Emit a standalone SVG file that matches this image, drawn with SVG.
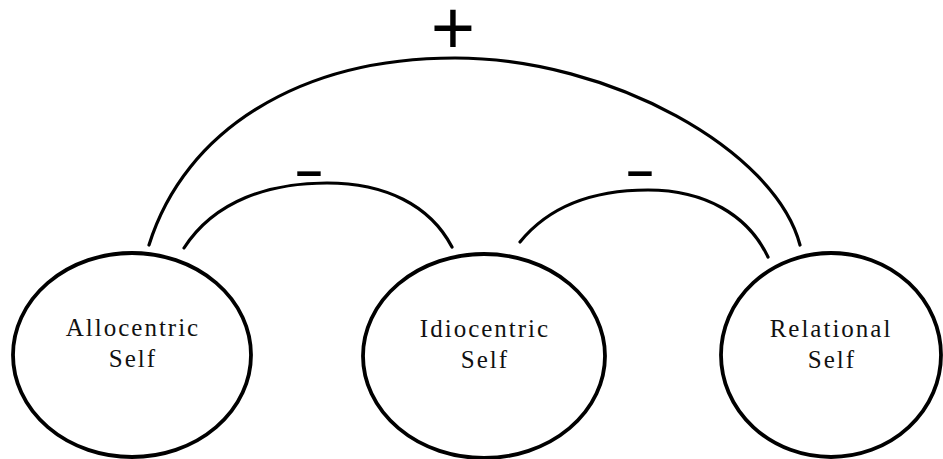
<svg xmlns="http://www.w3.org/2000/svg" width="943" height="459" viewBox="0 0 943 459">
  <style>
    .node ellipse { fill: #ffffff; stroke: #000000; stroke-width: 3.8; }
    .label { font-family: "Liberation Serif", "Times New Roman", serif; font-size: 25px; letter-spacing: 2px; fill: #111111; text-anchor: middle; }
    .conn path { fill: none; stroke: #000000; stroke-width: 3.2; stroke-linecap: round; }
    .sign { font-family: "Liberation Sans", Arial, sans-serif; fill: #000000; text-anchor: middle; }
  </style>
  <rect width="943" height="459" fill="#ffffff"/>
  <g id="connectors" class="conn">
    <path id="arc-plus" d="M149,245 C185,130 300,58 455,58 C610,58 775,150 800,245"/>
    <path id="arc-minus-left" d="M184,248 C215,200 270,183 327,183 C385,183 430,205 452,247"/>
    <path id="arc-minus-right" d="M520,242 C550,205 595,190 648,190 C705,190 748,215 768,257"/>
  </g>
  <g id="signs">
    <text class="sign" x="453" y="54" font-size="76">+</text>
    <text class="sign" font-size="60" transform="translate(309,188.5) scale(1.6,1)">-</text>
    <text class="sign" font-size="60" transform="translate(640,188.5) scale(1.6,1)">-</text>
  </g>
  <g id="allocentric" class="node">
    <ellipse cx="132" cy="355" rx="119" ry="102"/>
    <text class="label" x="133" y="336">Allocentric</text>
    <text class="label" x="133" y="367">Self</text>
  </g>
  <g id="idiocentric" class="node">
    <ellipse cx="484" cy="356" rx="121" ry="102"/>
    <text class="label" x="485" y="337">Idiocentric</text>
    <text class="label" x="485" y="368">Self</text>
  </g>
  <g id="relational" class="node">
    <ellipse cx="831" cy="355" rx="110" ry="102"/>
    <text class="label" x="831" y="337">Relational</text>
    <text class="label" x="832" y="368">Self</text>
  </g>
</svg>
